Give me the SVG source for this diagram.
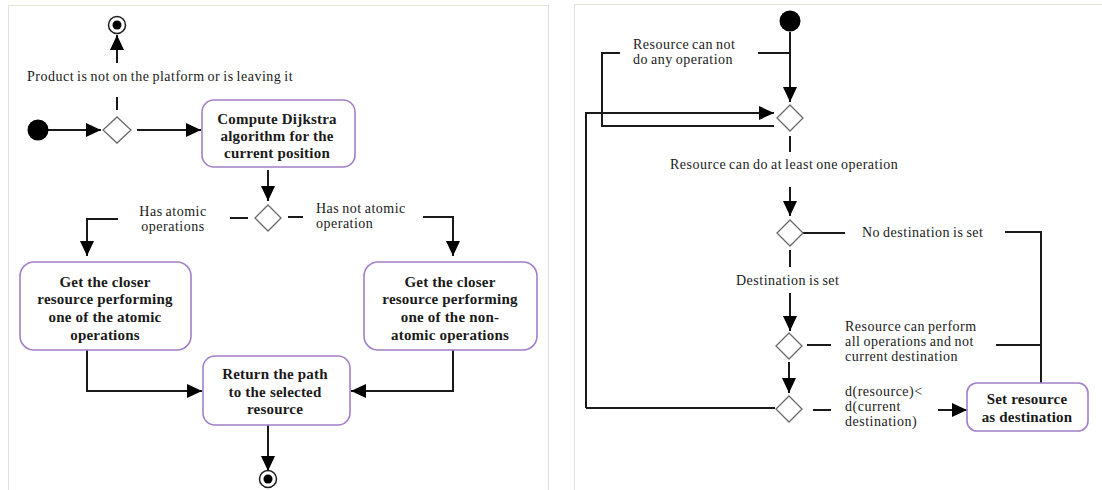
<svg xmlns="http://www.w3.org/2000/svg" width="1102" height="490" viewBox="0 0 1102 490">
<style>
.panel{fill:#ffffff;stroke:#e4e4d6;stroke-width:1}
.box{fill:#ffffff;stroke:#a27fc9;stroke-width:1.6}
.dia{fill:#ffffff;stroke:#6a6a6a;stroke-width:1.3}
.ln{fill:none;stroke:#1a1a1a;stroke-width:2}
.arr{fill:none;stroke:#1a1a1a;stroke-width:2;marker-end:url(#ah)}
.bt{font-family:"Liberation Serif",serif;font-weight:bold;font-size:15px;fill:#1a1a1a;text-anchor:middle;letter-spacing:0.2px}
.lt{font-family:"Liberation Serif",serif;font-size:14px;fill:#1a1a1a;letter-spacing:0.5px;word-spacing:-1px}
.dot{fill:#000}
</style>
<defs>
<marker id="ah" markerUnits="userSpaceOnUse" markerWidth="16" markerHeight="14" refX="15" refY="7" orient="auto">
<path d="M0,0 L15,7 L0,14 Z" fill="#000"/>
</marker>
</defs>
<rect width="1102" height="490" fill="#ffffff"/>
<rect class="panel" x="8.5" y="5.5" width="540" height="500"/>
<rect class="panel" x="574.5" y="4.5" width="540" height="500"/>

<g id="connectors">
<line class="arr" x1="48" y1="130" x2="101" y2="130"/>
<line class="arr" x1="137" y1="130" x2="201" y2="130"/>
<line class="ln" x1="117" y1="97" x2="117" y2="110"/>
<line class="arr" x1="117" y1="63" x2="117" y2="35"/>
<line class="arr" x1="268" y1="170" x2="268" y2="201"/>
<line class="ln" x1="230" y1="218" x2="248" y2="218"/>
<line class="ln" x1="288" y1="217" x2="303" y2="217"/>
<path class="arr" d="M118,219 H87 V256"/>
<path class="arr" d="M423,217 H453 V256"/>
<path class="arr" d="M87,350 V391 H202"/>
<path class="arr" d="M453,350 V391 H351"/>
<line class="arr" x1="268" y1="425" x2="268" y2="471"/>

<line class="arr" x1="790" y1="32" x2="790" y2="102"/>
<line class="ln" x1="758" y1="53" x2="790" y2="53"/>
<path class="ln" d="M620,53 H602 V126 H774"/>
<path class="arr" d="M586,408 V113 H774"/>
<line class="ln" x1="790" y1="136" x2="790" y2="152"/>
<line class="arr" x1="790" y1="187" x2="790" y2="216"/>
<line class="ln" x1="803" y1="233" x2="845" y2="233"/>
<path class="ln" d="M1005,232 H1041 V383"/>
<line class="ln" x1="790" y1="250" x2="790" y2="267"/>
<line class="arr" x1="790" y1="293" x2="790" y2="331"/>
<line class="ln" x1="807" y1="345" x2="831" y2="345"/>
<line class="ln" x1="996" y1="345" x2="1041" y2="345"/>
<line class="arr" x1="789" y1="362" x2="789" y2="393"/>
<line class="ln" x1="813" y1="410" x2="831" y2="410"/>
<line class="arr" x1="938" y1="410" x2="967" y2="410"/>
<line class="ln" x1="775" y1="408" x2="586" y2="408"/>
</g>

<g id="start1"><circle class="dot" cx="38" cy="130" r="10.5"/></g>
<g id="end1"><circle cx="117" cy="25" r="8.5" fill="#fff" stroke="#1a1a1a" stroke-width="1.5"/><circle class="dot" cx="117" cy="25" r="4.5"/></g>
<g id="dec1"><polygon class="dia" points="117,117 131,130 117,143 103,130"/></g>
<g id="lbl-product"><text class="lt" x="27" y="81">Product is not on the platform or is leaving it</text></g>
<g id="compute"><rect class="box" x="202" y="100" width="153" height="67" rx="12"/>
<text class="bt" x="277" y="124">Compute Dijkstra</text>
<text class="bt" x="277" y="141">algorithm for the</text>
<text class="bt" x="277" y="158">current position</text></g>
<g id="dec2"><polygon class="dia" points="268,205 281,218 268,231 255,218"/></g>
<g id="lbl-has"><text class="lt" x="173" y="216" text-anchor="middle">Has atomic</text><text class="lt" x="173" y="231" text-anchor="middle">operations</text></g>
<g id="lbl-hasnot"><text class="lt" x="316" y="213">Has not atomic</text><text class="lt" x="316" y="228">operation</text></g>
<g id="atomic"><rect class="box" x="20" y="262" width="171" height="88" rx="14"/>
<text class="bt" x="105" y="287">Get the closer</text>
<text class="bt" x="105" y="304">resource performing</text>
<text class="bt" x="105" y="322">one of the atomic</text>
<text class="bt" x="105" y="340">operations</text></g>
<g id="nonatomic"><rect class="box" x="364" y="262" width="173" height="88" rx="14"/>
<text class="bt" x="450" y="287">Get the closer</text>
<text class="bt" x="450" y="304">resource performing</text>
<text class="bt" x="450" y="322">one of the non-</text>
<text class="bt" x="450" y="340">atomic operations</text></g>
<g id="return"><rect class="box" x="203" y="356" width="147" height="69" rx="12"/>
<text class="bt" x="275" y="379">Return the path</text>
<text class="bt" x="275" y="397">to the selected</text>
<text class="bt" x="275" y="414">resource</text></g>
<g id="end2"><circle cx="268" cy="479" r="8.5" fill="#fff" stroke="#1a1a1a" stroke-width="1.5"/><circle class="dot" cx="268" cy="479" r="4.5"/></g>

<g id="start2"><circle class="dot" cx="790" cy="21" r="10.5"/></g>
<g id="lbl-cannot"><text class="lt" x="633" y="49">Resource can not</text><text class="lt" x="633" y="64">do any operation</text></g>
<g id="r1"><polygon class="dia" points="790,105 803,118 790,131 777,118"/></g>
<g id="lbl-can"><text class="lt" x="670" y="169">Resource can do at least one operation</text></g>
<g id="r2"><polygon class="dia" points="790,220 803,233 790,246 777,233"/></g>
<g id="lbl-nodest"><text class="lt" x="862" y="237">No destination is set</text></g>
<g id="lbl-destset"><text class="lt" x="736" y="285">Destination is set</text></g>
<g id="r3"><polygon class="dia" points="789,333 802,346 789,359 776,346"/></g>
<g id="lbl-perform"><text class="lt" x="845" y="331">Resource can perform</text><text class="lt" x="845" y="346">all operations and not</text><text class="lt" x="845" y="361">current destination</text></g>
<g id="r4"><polygon class="dia" points="789,396 802,409 789,422 776,409"/></g>
<g id="lbl-d"><text class="lt" x="845" y="396">d(resource)&lt;</text><text class="lt" x="845" y="411">d(current</text><text class="lt" x="845" y="426">destination)</text></g>
<g id="setres"><rect class="box" x="967" y="383" width="121" height="48" rx="10"/>
<text class="bt" x="1027" y="404">Set resource</text>
<text class="bt" x="1027" y="422">as destination</text></g>
</svg>
